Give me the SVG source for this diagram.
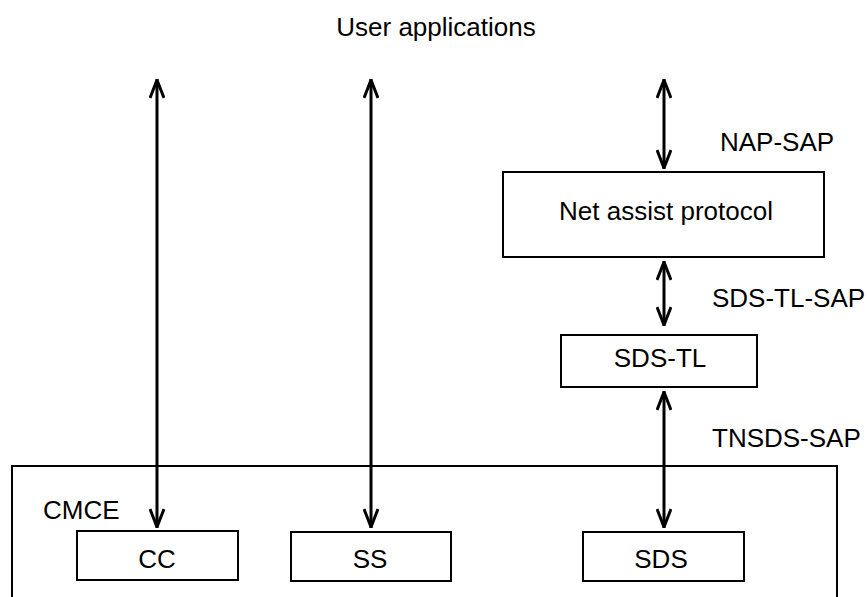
<svg xmlns="http://www.w3.org/2000/svg" width="868" height="597" viewBox="0 0 868 597">
<style>
.box{fill:#fff;stroke:#000;stroke-width:2}
.t{font-family:"Liberation Sans",Arial,sans-serif;font-size:26px;fill:#000}
.c{text-anchor:middle}
.conn line{stroke:#000;stroke-width:3}
</style>
<defs>
<marker id="ah" viewBox="0 0 20 16" refX="20" refY="8" markerWidth="20" markerHeight="16" markerUnits="userSpaceOnUse" orient="auto-start-reverse">
<path d="M1,1 L19,8 L1,15" fill="none" stroke="#000" stroke-width="3"/>
</marker>
</defs>
<rect width="868" height="597" fill="#fff"/>
<text class="t c" x="436" y="36">User applications</text>
<g id="cmce">
<rect class="box" x="12" y="466" width="825" height="150"/>
<text class="t" x="43" y="519">CMCE</text>
</g>
<g id="cc">
<rect class="box" x="77" y="531" width="161" height="49"/>
<text class="t c" x="157" y="568">CC</text>
</g>
<g id="ss">
<rect class="box" x="291" y="532" width="160" height="49"/>
<text class="t c" x="370" y="568">SS</text>
</g>
<g id="sds">
<rect class="box" x="583" y="532" width="161" height="49"/>
<text class="t c" x="661" y="568">SDS</text>
</g>
<g id="nap">
<rect class="box" x="503" y="172" width="321" height="85"/>
<text class="t c" x="666" y="220">Net assist protocol</text>
</g>
<g id="sdstl">
<rect class="box" x="561" y="335" width="196" height="52"/>
<text class="t c" x="660" y="367">SDS-TL</text>
</g>
<g id="labels">
<text class="t" x="720" y="151">NAP-SAP</text>
<text class="t" x="712" y="307">SDS-TL-SAP</text>
<text class="t" x="712" y="447">TNSDS-SAP</text>
</g>
<g id="connectors" class="conn">
<line x1="157" y1="79" x2="157" y2="528" marker-start="url(#ah)" marker-end="url(#ah)"/>
<line x1="371" y1="79" x2="371" y2="528" marker-start="url(#ah)" marker-end="url(#ah)"/>
<line x1="664" y1="79" x2="664" y2="169" marker-start="url(#ah)" marker-end="url(#ah)"/>
<line x1="664" y1="261" x2="664" y2="326" marker-start="url(#ah)" marker-end="url(#ah)"/>
<line x1="664" y1="391" x2="664" y2="528" marker-start="url(#ah)" marker-end="url(#ah)"/>
</g>
</svg>
